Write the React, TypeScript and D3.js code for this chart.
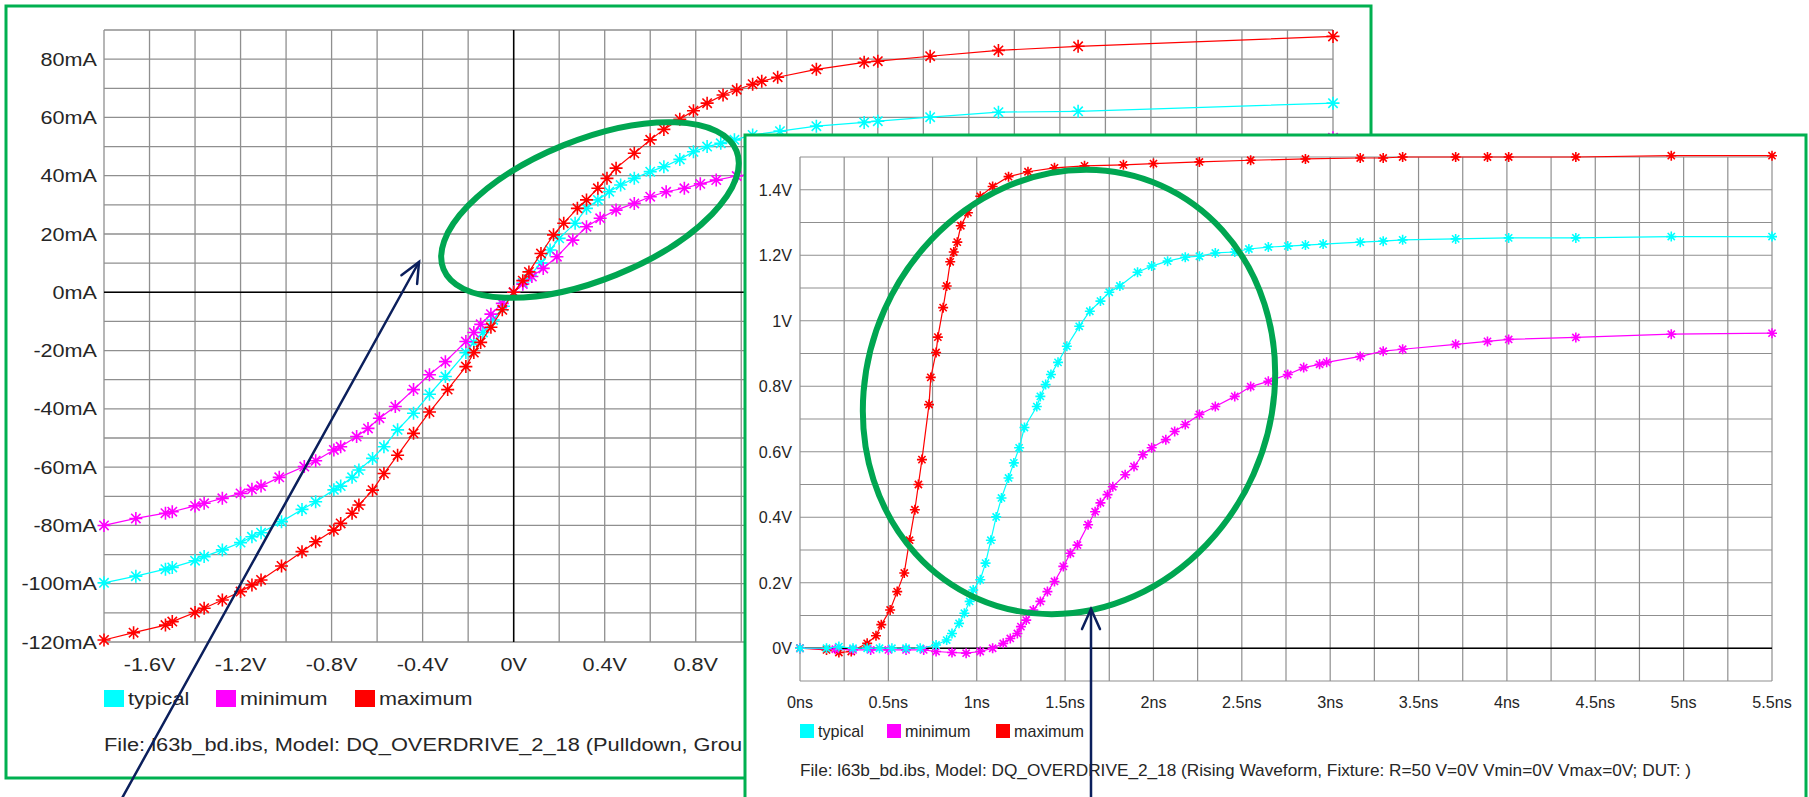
import React from 'react';
import * as d3 from 'd3';

// Pulldown I/V curves (volts -> mA)
const ivTypV = [-1.8, -1.66, -1.53, -1.5, -1.4, -1.36, -1.28, -1.2, -1.15, -1.11, -1.02, -0.93, -0.87, -0.79, -0.76, -0.71, -0.68, -0.62, -0.57, -0.51, -0.44, -0.37, -0.3, -0.21, -0.175, -0.135, -0.09, -0.045, 0, 0.04, 0.073, 0.12, 0.16, 0.2, 0.27, 0.32, 0.37, 0.42, 0.47, 0.53, 0.6, 0.66, 0.73, 0.79, 0.85, 0.91, 0.97, 1.05, 1.17, 1.33, 1.54, 1.6, 1.83, 2.13, 2.48, 3.6];
const ivTypI = [-99.7, -97.4, -95, -94.4, -92.1, -90.7, -88.4, -85.9, -83.9, -82.5, -78.7, -74.5, -71.9, -67.8, -66.5, -63.5, -61, -57, -53, -47.2, -41.5, -35, -28.9, -20.7, -17.2, -13.8, -9.5, -4.8, 0, 3.2, 5.9, 10, 14.5, 18.5, 23.7, 28.8, 31.7, 34.5, 36.8, 39.1, 41.4, 43.1, 45.6, 48.2, 50, 51.1, 52.3, 54, 55.3, 57, 58.3, 58.7, 60.1, 61.8, 62.1, 64.9];

const ivMinV = [-1.8, -1.66, -1.53, -1.5, -1.4, -1.36, -1.28, -1.2, -1.15, -1.11, -1.03, -0.92, -0.87, -0.79, -0.76, -0.69, -0.64, -0.59, -0.52, -0.44, -0.37, -0.3, -0.21, -0.175, -0.145, -0.1, -0.05, 0, 0.04, 0.08, 0.13, 0.19, 0.26, 0.32, 0.38, 0.45, 0.53, 0.6, 0.67, 0.75, 0.82, 0.89, 0.98, 1.2, 1.5, 2.0, 2.5, 3.0, 3.6];
const ivMinI = [-80, -77.6, -75.8, -75.3, -73.3, -72.4, -70.7, -69, -67.6, -66.5, -63.5, -59.8, -57.8, -54.1, -53, -49.5, -46.7, -43.2, -39.2, -33.4, -28.3, -23.8, -16.9, -13.8, -11, -7.5, -3.8, 0, 2.8, 5.4, 8.2, 12.2, 17.9, 22.5, 25.4, 28.2, 30.5, 32.8, 34.5, 35.7, 37.2, 38.5, 39.9, 42.5, 45, 48, 50, 51.5, 53];

const ivMaxV = [-1.8, -1.67, -1.53, -1.5, -1.4, -1.36, -1.28, -1.2, -1.15, -1.11, -1.02, -0.93, -0.87, -0.79, -0.76, -0.71, -0.68, -0.62, -0.57, -0.51, -0.44, -0.37, -0.29, -0.21, -0.175, -0.145, -0.1, -0.05, 0, 0.04, 0.067, 0.12, 0.175, 0.22, 0.28, 0.32, 0.37, 0.41, 0.45, 0.53, 0.6, 0.66, 0.73, 0.79, 0.85, 0.92, 0.98, 1.05, 1.09, 1.16, 1.33, 1.54, 1.6, 1.83, 2.13, 2.48, 3.6];
const ivMaxI = [-119.3, -116.8, -114.2, -113, -109.9, -108.4, -105.6, -102.7, -100.4, -98.7, -93.9, -89, -85.6, -81.6, -79.3, -75.8, -73, -67.9, -62.2, -55.9, -48.4, -41.1, -33.4, -25.5, -20.7, -17.2, -12, -6, 0, 4, 7, 13.3, 19.7, 23.7, 28.8, 31.7, 35.7, 39.1, 42.6, 47.7, 52.3, 55.9, 59.4, 62.3, 64.9, 67.7, 69.5, 71.4, 72.4, 73.8, 76.5, 78.9, 79.3, 81, 83, 84.4, 87.8];

// Rising waveform (ns -> V)
const wfTypT = [0, 0.15, 0.22, 0.3, 0.38, 0.45, 0.52, 0.6, 0.68, 0.77, 0.83, 0.86, 0.9, 0.93, 0.96, 0.98, 1.02, 1.05, 1.08, 1.11, 1.14, 1.18, 1.21, 1.24, 1.27, 1.34, 1.36, 1.39, 1.42, 1.46, 1.51, 1.58, 1.64, 1.7, 1.75, 1.81, 1.91, 1.99, 2.08, 2.18, 2.26, 2.35, 2.46, 2.54, 2.65, 2.76, 2.86, 2.96, 3.17, 3.3, 3.41, 3.71, 4.01, 4.39, 4.93, 5.5];
const wfTypV = [0, 0, 0.005, 0, 0, 0, 0, 0, 0, 0.01, 0.025, 0.045, 0.076, 0.107, 0.143, 0.178, 0.209, 0.26, 0.33, 0.401, 0.459, 0.52, 0.566, 0.612, 0.674, 0.738, 0.769, 0.805, 0.836, 0.873, 0.922, 0.983, 1.029, 1.06, 1.087, 1.106, 1.148, 1.167, 1.182, 1.194, 1.197, 1.207, 1.21, 1.219, 1.225, 1.228, 1.231, 1.234, 1.24, 1.243, 1.247, 1.25, 1.253, 1.253, 1.257, 1.257];

const wfMinT = [0, 0.2, 0.3, 0.4, 0.5, 0.6, 0.7, 0.77, 0.86, 0.94, 1.02, 1.09, 1.15, 1.19, 1.23, 1.25, 1.28, 1.32, 1.36, 1.4, 1.44, 1.49, 1.53, 1.57, 1.63, 1.67, 1.7, 1.74, 1.77, 1.84, 1.89, 1.94, 1.99, 2.07, 2.12, 2.18, 2.26, 2.35, 2.46, 2.55, 2.65, 2.76, 2.85, 2.94, 2.98, 3.17, 3.3, 3.41, 3.71, 3.89, 4.01, 4.39, 4.93, 5.5];
const wfMinV = [0, -0.003, -0.005, -0.005, -0.005, -0.005, -0.005, -0.01, -0.013, -0.015, -0.01, 0, 0.015, 0.03, 0.045, 0.066, 0.086, 0.117, 0.143, 0.173, 0.204, 0.25, 0.29, 0.315, 0.377, 0.417, 0.444, 0.469, 0.493, 0.53, 0.555, 0.591, 0.612, 0.637, 0.662, 0.683, 0.714, 0.738, 0.769, 0.799, 0.815, 0.836, 0.857, 0.867, 0.873, 0.891, 0.907, 0.913, 0.928, 0.937, 0.943, 0.949, 0.959, 0.962];

const wfMaxT = [0, 0.15, 0.22, 0.29, 0.38, 0.43, 0.46, 0.51, 0.55, 0.59, 0.62, 0.65, 0.67, 0.69, 0.73, 0.74, 0.77, 0.78, 0.81, 0.83, 0.85, 0.87, 0.89, 0.91, 0.95, 1.02, 1.09, 1.18, 1.29, 1.44, 1.61, 1.83, 2.0, 2.26, 2.55, 2.86, 3.17, 3.3, 3.41, 3.71, 3.89, 4.01, 4.39, 4.93, 5.5];
const wfMaxV = [0, -0.005, -0.013, -0.01, 0.015, 0.038, 0.072, 0.117, 0.173, 0.23, 0.33, 0.423, 0.5, 0.576, 0.744, 0.827, 0.903, 0.95, 1.04, 1.106, 1.18, 1.21, 1.24, 1.29, 1.33, 1.38, 1.41, 1.44, 1.455, 1.467, 1.473, 1.476, 1.48, 1.485, 1.49, 1.494, 1.497, 1.497, 1.5, 1.5, 1.5, 1.5, 1.5, 1.504, 1.504];

const ivTicksX = [-1.6, -1.2, -0.8, -0.4, 0, 0.4, 0.8, 1.2, 1.6, 2, 2.4, 2.8, 3.2];
const ivTicksY = [-120, -100, -80, -60, -40, -20, 0, 20, 40, 60, 80];
const wfTicksX = [0, 0.5, 1, 1.5, 2, 2.5, 3, 3.5, 4, 4.5, 5, 5.5];
const wfTicksY = [0, 0.2, 0.4, 0.6, 0.8, 1, 1.2, 1.4];

const legendNames = ['typical', 'minimum', 'maximum'];
const seriesColors = ['#00ffff', '#ff00ff', '#ff0000'];

// only the part left of the overlapping window is visible
const ivFile = 'File: l63b_bd.ibs, Model: DQ_OVERDRIVE_2_18 (Pulldown, Grou';
const wfFile = 'File: l63b_bd.ibs, Model: DQ_OVERDRIVE_2_18 (Rising Waveform, Fixture: R=50 V=0V Vmin=0V Vmax=0V;  DUT: )';

const FONT = '"Liberation Sans", Arial, sans-serif';
const GREEN = '#00a651';
const NAVY = '#0b1f5c';
const GRID = '#8f8f8f';
const INSET_LEFT = 745;

const Label = ({ x, y, size, sx, anchor = 'start', children }: any) => (
    <text
        transform={`translate(${x},${y}) scale(${sx},1)`}
        textAnchor={anchor}
        fontSize={size}
        fill="#262626"
        fontFamily={FONT}
    >
        {children}
    </text>
);

const Series = ({ xs, ys, x, y, color, r }: any) => {
    const pts: [number, number][] = xs.map((v: number, i: number) => [x(v), y(ys[i])]);
    const line = d3.line();
    const d = r * 0.72;
    return (
        <g>
            <path d={line(pts) || ''} fill="none" stroke={color} strokeWidth={1.2} />
            {pts.map(([px, py], i) => (
                <path
                    key={i}
                    d={`M${px},${py - r}L${px},${py + r}M${px - r},${py}L${px + r},${py}M${px - d},${py - d}L${px + d},${py + d}M${px - d},${py + d}L${px + d},${py - d}`}
                    stroke={color}
                    strokeWidth={1.6}
                />
            ))}
        </g>
    );
};

const Arrow = ({ from, to }: any) => {
    const ang = Math.atan2(to[1] - from[1], to[0] - from[0]);
    const len = 22;
    const a1 = ang + Math.PI - 0.42;
    const a2 = ang + Math.PI + 0.42;
    return (
        <g stroke={NAVY} strokeWidth={2.5} fill="none" strokeLinecap="round">
            <line x1={from[0]} y1={from[1]} x2={to[0]} y2={to[1]} />
            <polyline
                points={`${to[0] + len * Math.cos(a1)},${to[1] + len * Math.sin(a1)} ${to[0]},${to[1]} ${to[0] + len * Math.cos(a2)},${to[1] + len * Math.sin(a2)}`}
            />
        </g>
    );
};

function IVPanel() {
    const x = d3.scaleLinear().domain([-1.8, 3.6]).range([104, 1333]);
    const y = d3.scaleLinear().domain([-120, 90]).range([642, 30]);
    const gx = d3.range(0, 28).map(i => -1.8 + i * 0.2);
    const gy = d3.range(0, 22).map(i => -120 + i * 10);
    const series = [[ivTypV, ivTypI], [ivMinV, ivMinI], [ivMaxV, ivMaxI]];
    const sx = 1.2;
    return (
        <g>
            <rect x={6} y={6} width={1365} height={772} fill="#fff" stroke="#00b050" strokeWidth={3} />
            {gx.map((v, i) => (
                <line key={'gx' + i} x1={x(v)} x2={x(v)} y1={y(90)} y2={y(-120)} stroke={GRID} strokeWidth={1.3} />
            ))}
            {gy.map((v, i) => (
                <line key={'gy' + i} x1={x(-1.8)} x2={x(3.6)} y1={y(v)} y2={y(v)} stroke={GRID} strokeWidth={1.3} />
            ))}
            <line x1={x(0)} x2={x(0)} y1={y(90)} y2={y(-120)} stroke="#000" strokeWidth={1.5} />
            <line x1={x(-1.8)} x2={x(3.6)} y1={y(0)} y2={y(0)} stroke="#000" strokeWidth={1.5} />
            {ivTicksY.map(v => (
                <Label key={'ly' + v} x={97} y={y(v) + 6.5} size={18} sx={sx} anchor="end">{`${v}mA`}</Label>
            ))}
            {ivTicksX.filter(v => x(v) < INSET_LEFT - 20).map(v => (
                <Label key={'lx' + v} x={x(v)} y={671} size={18} sx={sx} anchor="middle">{`${+v.toFixed(1)}V`}</Label>
            ))}
            {series.map(([xs, ys], i) => (
                <Series key={i} xs={xs} ys={ys} x={x} y={y} color={seriesColors[i]} r={6.5} />
            ))}
            {legendNames.map((n, i) => {
                const lx = [104, 216, 355][i];
                return (
                    <g key={n}>
                        <rect x={lx} y={690} width={20} height={17} fill={seriesColors[i]} />
                        <Label x={lx + 24} y={705} size={18} sx={sx}>{n}</Label>
                    </g>
                );
            })}
            <text x={104} y={751} fontSize={18} fontFamily={FONT} fill="#262626" textLength={638} lengthAdjust="spacingAndGlyphs">
                {ivFile}
            </text>
            <ellipse cx={590} cy={210} rx={158} ry={70} transform="rotate(-22 590 210)" fill="none" stroke={GREEN} strokeWidth={6} />
            <Arrow from={[121, 800]} to={[419, 262]} />
        </g>
    );
}

function WaveformPanel() {
    const x = d3.scaleLinear().domain([0, 5.5]).range([800, 1772]);
    const y = d3.scaleLinear().domain([-0.1, 1.5]).range([681, 157]);
    const gx = d3.range(0, 23).map(i => i * 0.25);
    const gy = d3.range(0, 17).map(i => -0.1 + i * 0.1);
    const series = [[wfMaxT, wfMaxV, 2], [wfMinT, wfMinV, 1], [wfTypT, wfTypV, 0]];
    const sx = 0.95;
    return (
        <g>
            <rect x={INSET_LEFT} y={135} width={1061} height={700} fill="#fff" stroke="#00b050" strokeWidth={3} />
            {gx.map((v, i) => (
                <line key={'gx' + i} x1={x(v)} x2={x(v)} y1={y(1.5)} y2={y(-0.1)} stroke={GRID} strokeWidth={1.2} />
            ))}
            {gy.map((v, i) => (
                <line key={'gy' + i} x1={x(0)} x2={x(5.5)} y1={y(v)} y2={y(v)} stroke={GRID} strokeWidth={1.2} />
            ))}
            <line x1={x(0)} x2={x(5.5)} y1={y(0)} y2={y(0)} stroke="#000" strokeWidth={1.5} />
            {wfTicksY.map(v => (
                <Label key={'ly' + v} x={792} y={y(v) + 6} size={17} sx={sx} anchor="end">{`${+v.toFixed(1)}V`}</Label>
            ))}
            {wfTicksX.map(v => (
                <Label key={'lx' + v} x={x(v)} y={708} size={17} sx={sx} anchor="middle">{`${v}ns`}</Label>
            ))}
            {series.map(([xs, ys, c]: any, i) => (
                <Series key={i} xs={xs} ys={ys} x={x} y={y} color={seriesColors[c]} r={5} />
            ))}
            {legendNames.map((n, i) => {
                const lx = [800, 887, 996][i];
                return (
                    <g key={n}>
                        <rect x={lx} y={724} width={14} height={14} fill={seriesColors[i]} />
                        <Label x={lx + 18} y={737} size={17} sx={sx}>{n}</Label>
                    </g>
                );
            })}
            <text x={800} y={776} fontSize={17} fontFamily={FONT} fill="#262626" textLength={891} lengthAdjust="spacingAndGlyphs">
                {wfFile}
            </text>
            <ellipse cx={1069} cy={392} rx={202} ry={226} transform="rotate(24 1069 392)" fill="none" stroke={GREEN} strokeWidth={6} />
            <Arrow from={[1091, 800]} to={[1091, 609]} />
        </g>
    );
}

export default function App() {
    return (
        <svg
            width={1809}
            height={797}
            style={{ position: 'absolute', left: 0, top: 0, background: '#fff' }}
        >
            <IVPanel />
            <WaveformPanel />
        </svg>
    );
}
